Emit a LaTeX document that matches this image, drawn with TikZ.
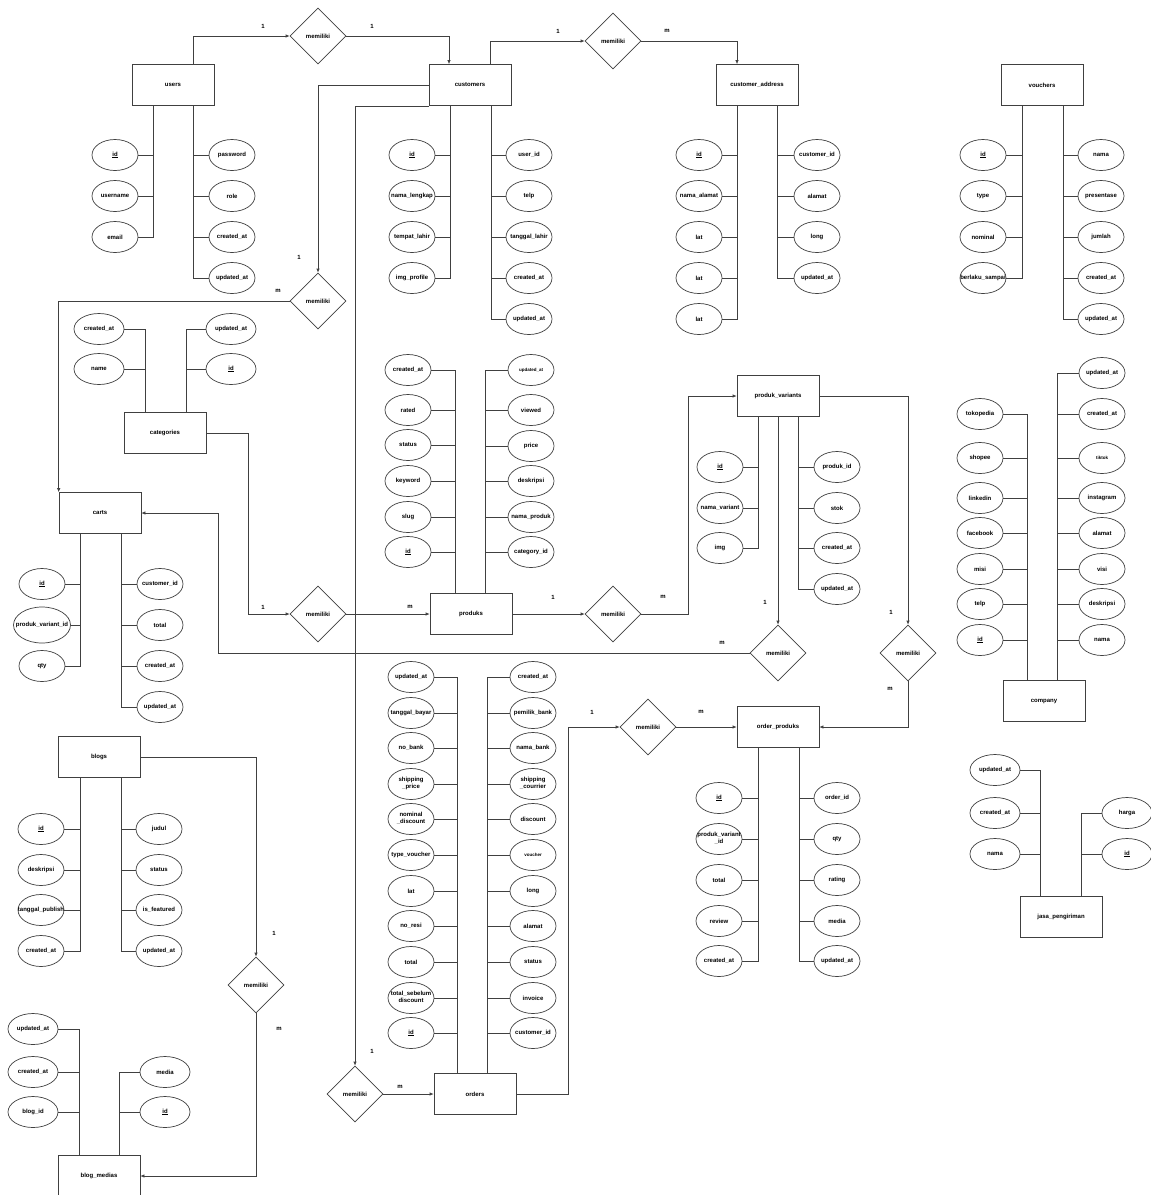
\documentclass[tikz,border=0pt]{standalone}
\usepackage{fontspec}
\setsansfont{Liberation Sans}
\usepackage{tikz}
\usetikzlibrary{calc}
\usetikzlibrary{positioning}
\usetikzlibrary{shapes.geometric}
\usetikzlibrary{arrows.meta}
\tikzset{>={Latex[length=4pt,width=3.5pt]}}
\newcommand{\ctext}[1]{\hbox to 0pt{\hss#1\hss}}
\newcommand{\twoline}[2]{\begin{tabular}{@{}c@{}}#1\\#2\end{tabular}}
\newcommand{\tinytext}[1]{{\fontsize{4.5}{5}\selectfont #1}}

\begin{document}
\begin{tikzpicture}[x=1pt, y=-1pt,
    font=\sffamily\bfseries\fontsize{6}{7}\selectfont,
    link/.style={draw=black!75, line width=0.7pt},
    entity/.style={link, minimum width=82pt, minimum height=41pt, inner sep=0pt},
    attr/.style={link, ellipse, minimum width=46pt, minimum height=31pt, inner sep=0pt},
    relation/.style={link, diamond, minimum width=56pt, minimum height=56pt, inner sep=0pt},
    card/.style={inner sep=0pt},
]
\fill[white] (0,0) rectangle (1151,1195);
\useasboundingbox (0,0) rectangle (1151,1195);

\node[entity] (users) at (173,85) {users};
\node[entity] (customers) at (470,85) {customers};
\node[entity] (custaddr) at (757,85) {customer\_address};
\node[entity] (vouchers) at (1042,85) {vouchers};
\node[entity] (categories) at (165,433) {categories};
\node[entity] (carts) at (100,513) {carts};
\node[entity] (produks) at (471,614) {produks};
\node[entity] (varians) at (778,396) {produk\_variants};
\node[entity] (orderprod) at (778,727) {order\_produks};
\node[entity] (company) at (1044,701) {company};
\node[entity] (jasa) at (1061,917) {jasa\_pengiriman};
\node[entity] (blogs) at (99,757) {blogs};
\node[entity] (blogmedia) at (99,1176) {blog\_medias};
\node[entity] (orders) at (475,1094) {orders};

\node[relation] (r1) at (318,36) {memiliki};
\node[relation] (r2) at (613,41) {memiliki};
\node[relation] (r3) at (318,301) {memiliki};
\node[relation] (r4) at (318,614) {memiliki};
\node[relation] (r5) at (355,1094) {memiliki};
\node[relation] (r6) at (613,614) {memiliki};
\node[relation] (r7) at (778,653) {memiliki};
\node[relation] (r8) at (908,653) {memiliki};
\node[relation] (r9) at (648,727) {memiliki};
\node[relation] (r10) at (256,985) {memiliki};

% users
\coordinate (ulsp) at ($(users.south)+(-20,0)$);
\coordinate (ursp) at ($(users.south)+(20,0)$);
\foreach \y/\t [count=\i] in {155/\underline{id},196/username,237/email}{
    \node[attr] (ul\i) at (115,\y) {\ctext{\t}};
    \draw[link] (ul\i.east) -- (ul\i.east -| ulsp);
}
\foreach \y/\t [count=\i] in {155/password,196/role,237/created\_at,278/updated\_at}{
    \node[attr] (ur\i) at (232,\y) {\ctext{\t}};
    \draw[link] (ur\i.west) -- (ur\i.west -| ursp);
}
\draw[link] (ulsp) |- (ul3.east);
\draw[link] (ursp) |- (ur4.west);

% customers
\coordinate (clsp) at ($(customers.south)+(-20,0)$);
\coordinate (crsp) at ($(customers.south)+(21,0)$);
\foreach \y/\t [count=\i] in {155/\underline{id},196/nama\_lengkap,237/tempat\_lahir,278/img\_profile}{
    \node[attr] (cl\i) at (412,\y) {\ctext{\t}};
    \draw[link] (cl\i.east) -- (cl\i.east -| clsp);
}
\foreach \y/\t [count=\i] in {155/user\_id,196/telp,237/tanggal\_lahir,278/created\_at,319/updated\_at}{
    \node[attr] (cr\i) at (529,\y) {\ctext{\t}};
    \draw[link] (cr\i.west) -- (cr\i.west -| crsp);
}
\draw[link] (clsp) |- (cl4.east);
\draw[link] (crsp) |- (cr5.west);

% customer_address
\coordinate (alsp) at ($(custaddr.south)+(-20,0)$);
\coordinate (arsp) at ($(custaddr.south)+(20,0)$);
\foreach \y/\t [count=\i] in {155/\underline{id},196/nama\_alamat,237/lat,278/lat,319/lat}{
    \node[attr] (al\i) at (699,\y) {\ctext{\t}};
    \draw[link] (al\i.east) -- (al\i.east -| alsp);
}
\foreach \y/\t [count=\i] in {155/customer\_id,196/alamat,237/long,278/updated\_at}{
    \node[attr] (ar\i) at (817,\y) {\ctext{\t}};
    \draw[link] (ar\i.west) -- (ar\i.west -| arsp);
}
\draw[link] (alsp) |- (al5.east);
\draw[link] (arsp) |- (ar4.west);

% vouchers
\coordinate (vlsp) at ($(vouchers.south)+(-20,0)$);
\coordinate (vrsp) at ($(vouchers.south)+(21,0)$);
\foreach \y/\t [count=\i] in {155/\underline{id},196/type,237/nominal,278/berlaku\_sampai}{
    \node[attr] (vl\i) at (983,\y) {\ctext{\t}};
    \draw[link] (vl\i.east) -- (vl\i.east -| vlsp);
}
\foreach \y/\t [count=\i] in {155/nama,196/presentase,237/jumlah,278/created\_at,319/updated\_at}{
    \node[attr] (vr\i) at (1101,\y) {\ctext{\t}};
    \draw[link] (vr\i.west) -- (vr\i.west -| vrsp);
}
\draw[link] (vlsp) |- (vl4.east);
\draw[link] (vrsp) |- (vr5.west);

% categories
\coordinate (klsp) at ($(categories.north)+(-20,0)$);
\coordinate (krsp) at ($(categories.north)+(21,0)$);
\foreach \y/\t [count=\i] in {329/created\_at,369/name}{
    \node[attr, minimum width=50pt] (kl\i) at (99,\y) {\ctext{\t}};
    \draw[link] (kl\i.east) -- (kl\i.east -| klsp);
}
\foreach \y/\t [count=\i] in {329/updated\_at,369/\underline{id}}{
    \node[attr, minimum width=50pt] (kr\i) at (231,\y) {\ctext{\t}};
    \draw[link] (kr\i.west) -- (kr\i.west -| krsp);
}
\draw[link] (klsp) |- (kl1.east);
\draw[link] (krsp) |- (kr1.west);

% produks
\coordinate (plsp) at ($(produks.north)+(-16,0)$);
\coordinate (prsp) at ($(produks.north)+(14,0)$);
\foreach \y/\t [count=\i] in {370/created\_at,410/rated,445/status,481/keyword,517/slug,552/\underline{id}}{
    \node[attr] (pl\i) at (408,\y) {\ctext{\t}};
    \draw[link] (pl\i.east) -- (pl\i.east -| plsp);
}
\foreach \y/\t [count=\i] in {370/\tinytext{updated\_at},410/viewed,446/price,481/deskripsi,517/nama\_produk,552/category\_id}{
    \node[attr] (pr\i) at (531,\y) {\ctext{\t}};
    \draw[link] (pr\i.west) -- (pr\i.west -| prsp);
}
\draw[link] (plsp) |- (pl1.east);
\draw[link] (prsp) |- (pr1.west);

% produk_variants
\coordinate (pvlsp) at ($(varians.south)+(-20,0)$);
\coordinate (pvrsp) at ($(varians.south)+(20,0)$);
\foreach \y/\t [count=\i] in {467/\underline{id},508/nama\_variant,548/img}{
    \node[attr] (pvl\i) at (720,\y) {\ctext{\t}};
    \draw[link] (pvl\i.east) -- (pvl\i.east -| pvlsp);
}
\foreach \y/\t [count=\i] in {467/produk\_id,508/stok,548/created\_at,589/updated\_at}{
    \node[attr] (pvr\i) at (837,\y) {\ctext{\t}};
    \draw[link] (pvr\i.west) -- (pvr\i.west -| pvrsp);
}
\draw[link] (pvlsp) |- (pvl3.east);
\draw[link] (pvrsp) |- (pvr4.west);

% carts
\coordinate (tlsp) at ($(carts.south)+(-20,0)$);
\coordinate (trsp) at ($(carts.south)+(21,0)$);
\foreach \y/\t/\w/\h [count=\i] in {584/\underline{id}/46/31,625/produk\_variant\_id/57/36,666/qty/46/31}{
    \node[attr, minimum width=\w pt, minimum height=\h pt] (tl\i) at (42,\y) {\ctext{\t}};
    \draw[link] (tl\i.east) -- (tl\i.east -| tlsp);
}
\foreach \y/\t [count=\i] in {584/customer\_id,625/total,666/created\_at,707/updated\_at}{
    \node[attr] (tr\i) at (160,\y) {\ctext{\t}};
    \draw[link] (tr\i.west) -- (tr\i.west -| trsp);
}
\draw[link] (tlsp) |- (tl3.east);
\draw[link] (trsp) |- (tr4.west);

% order_produks
\coordinate (oplsp) at ($(orderprod.south)+(-20,0)$);
\coordinate (oprsp) at ($(orderprod.south)+(21,0)$);
\foreach \y/\t [count=\i] in {798/\underline{id},839/\twoline{produk\_variant}{\_id},880/total,921/review,961/created\_at}{
    \node[attr] (opl\i) at (719,\y) {\ctext{\t}};
    \draw[link] (opl\i.east) -- (opl\i.east -| oplsp);
}
\foreach \y/\t [count=\i] in {798/order\_id,839/qty,880/rating,921/media,961/updated\_at}{
    \node[attr] (opr\i) at (837,\y) {\ctext{\t}};
    \draw[link] (opr\i.west) -- (opr\i.west -| oprsp);
}
\draw[link] (oplsp) |- (opl5.east);
\draw[link] (oprsp) |- (opr5.west);

% orders
\coordinate (odlsp) at ($(orders.north)+(-18,0)$);
\coordinate (odrsp) at ($(orders.north)+(12,0)$);
\foreach \y/\t [count=\i] in {677/updated\_at,713/tanggal\_bayar,748/no\_bank,784/\twoline{shipping}{\_price},
        819/\twoline{nominal}{\_discount},855/type\_voucher,891/lat,926/no\_resi,962/total,
        998/\twoline{total\_sebelum}{discount},1033/\underline{id}}{
    \node[attr] (odl\i) at (411,\y) {\ctext{\t}};
    \draw[link] (odl\i.east) -- (odl\i.east -| odlsp);
}
\foreach \y/\t [count=\i] in {677/created\_at,713/pemilik\_bank,748/nama\_bank,784/\twoline{shipping}{\_courrier},
        819/discount,855/\tinytext{voucher},891/long,926/alamat,962/status,998/invoice,1033/customer\_id}{
    \node[attr] (odr\i) at (533,\y) {\ctext{\t}};
    \draw[link] (odr\i.west) -- (odr\i.west -| odrsp);
}
\draw[link] (odlsp) |- (odl1.east);
\draw[link] (odrsp) |- (odr1.west);

% company
\coordinate (colsp) at ($(company.north)+(-17,0)$);
\coordinate (corsp) at ($(company.north)+(13,0)$);
\foreach \y/\t [count=\i] in {414/tokopedia,458/shopee,498/linkedin,533/facebook,569/misi,604/telp,640/\underline{id}}{
    \node[attr] (col\i) at (980,\y) {\ctext{\t}};
    \draw[link] (col\i.east) -- (col\i.east -| colsp);
}
\foreach \y/\t [count=\i] in {373/updated\_at,414/created\_at,458/\tinytext{tiktok},498/instagram,533/alamat,569/visi,604/deskripsi,640/nama}{
    \node[attr] (cor\i) at (1102,\y) {\ctext{\t}};
    \draw[link] (cor\i.west) -- (cor\i.west -| corsp);
}
\draw[link] (colsp) |- (col1.east);
\draw[link] (corsp) |- (cor1.west);

% jasa_pengiriman
\coordinate (jlsp) at ($(jasa.north)+(-21,0)$);
\coordinate (jrsp) at ($(jasa.north)+(20,0)$);
\foreach \y/\t [count=\i] in {770/updated\_at,813/created\_at,854/nama}{
    \node[attr, minimum width=50pt] (jl\i) at (995,\y) {\ctext{\t}};
    \draw[link] (jl\i.east) -- (jl\i.east -| jlsp);
}
\foreach \y/\t [count=\i] in {813/harga,854/\underline{id}}{
    \node[attr, minimum width=50pt] (jr\i) at (1127,\y) {\ctext{\t}};
    \draw[link] (jr\i.west) -- (jr\i.west -| jrsp);
}
\draw[link] (jlsp) |- (jl1.east);
\draw[link] (jrsp) |- (jr1.west);

% blogs
\coordinate (blsp) at ($(blogs.south)+(-19,0)$);
\coordinate (brsp) at ($(blogs.south)+(22,0)$);
\foreach \y/\t [count=\i] in {829/\underline{id},870/deskripsi,910/tanggal\_publish,951/created\_at}{
    \node[attr] (bl\i) at (41,\y) {\ctext{\t}};
    \draw[link] (bl\i.east) -- (bl\i.east -| blsp);
}
\foreach \y/\t [count=\i] in {829/judul,870/status,910/is\_featured,951/updated\_at}{
    \node[attr] (br\i) at (159,\y) {\ctext{\t}};
    \draw[link] (br\i.west) -- (br\i.west -| brsp);
}
\draw[link] (blsp) |- (bl4.east);
\draw[link] (brsp) |- (br4.west);

% blog_medias
\coordinate (mlsp) at ($(blogmedia.north)+(-20,0)$);
\coordinate (mrsp) at ($(blogmedia.north)+(20,0)$);
\foreach \y/\t [count=\i] in {1029/updated\_at,1072/created\_at,1112/blog\_id}{
    \node[attr, minimum width=50pt] (ml\i) at (33,\y) {\ctext{\t}};
    \draw[link] (ml\i.east) -- (ml\i.east -| mlsp);
}
\foreach \y/\t [count=\i] in {1072/media,1112/\underline{id}}{
    \node[attr, minimum width=50pt] (mr\i) at (165,\y) {\ctext{\t}};
    \draw[link] (mr\i.west) -- (mr\i.west -| mrsp);
}
\draw[link] (mlsp) |- (ml1.east);
\draw[link] (mrsp) |- (mr1.west);

% relationships
\draw[link,->] ($(users.north)+(20,0)$) |- (r1.west);
\draw[link,->] (r1.east) -| ($(customers.north)+(-21,0)$);
\draw[link,->] ($(customers.north)+(20,0)$) |- (r2.west);
\draw[link,->] (r2.east) -| ($(custaddr.north)+(-20,0)$);
\draw[link,->] (customers.west) -| (r3.north);
\draw[link,->] (r3.west) -| (carts.north west);
\draw[link,->] (categories.east) -- ++(42,0) |- (r4.west);
\draw[link,->] (r4.east) -- (produks.west);
\draw[link,->] (produks.east) -- (r6.west);
\draw[link,->] (r6.east) -- ++(47,0) |- (varians.west);
\draw[link,->] (varians.south) -- (r7.north);
\draw[link,->] (r7.west) -| ($(carts.east)+(77,0)$) -- (carts.east);
\draw[link,->] (varians.east) -| (r8.north);
\draw[link,->] (r8.south) |- (orderprod.east);
\draw[link,->] (customers.south west) -| (r5.north);
\draw[link,->] (r5.east) -- (orders.west);
\draw[link,->] (orders.east) -- ++(52,0) |- (r9.west);
\draw[link,->] (r9.east) -- (orderprod.west);
\draw[link,->] (blogs.east) -| (r10.north);
\draw[link,->] (r10.south) |- (blogmedia.east);

\node[card] (n1) at (263,26) {1};
\node[card] (n2) at (372,26) {1};
\node[card] (n3) at (558,31) {1};
\node[card] (n4) at (667,31) {m};
\node[card] (n5) at (299,257) {1};
\node[card] (n6) at (278,291) {m};
\node[card] (n7) at (263,607) {1};
\node[card] (n8) at (410,607) {m};
\node[card] (n9) at (553,597) {1};
\node[card] (n10) at (663,597) {m};
\node[card] (n11) at (765,602) {1};
\node[card] (n12) at (722,643) {m};
\node[card] (n13) at (891,612) {1};
\node[card] (n14) at (890,689) {m};
\node[card] (n15) at (372,1051) {1};
\node[card] (n16) at (400,1087) {m};
\node[card] (n17) at (592,712) {1};
\node[card] (n18) at (701,712) {m};
\node[card] (n19) at (274,933) {1};
\node[card] (n20) at (279,1029) {m};
\end{tikzpicture}
\end{document}
